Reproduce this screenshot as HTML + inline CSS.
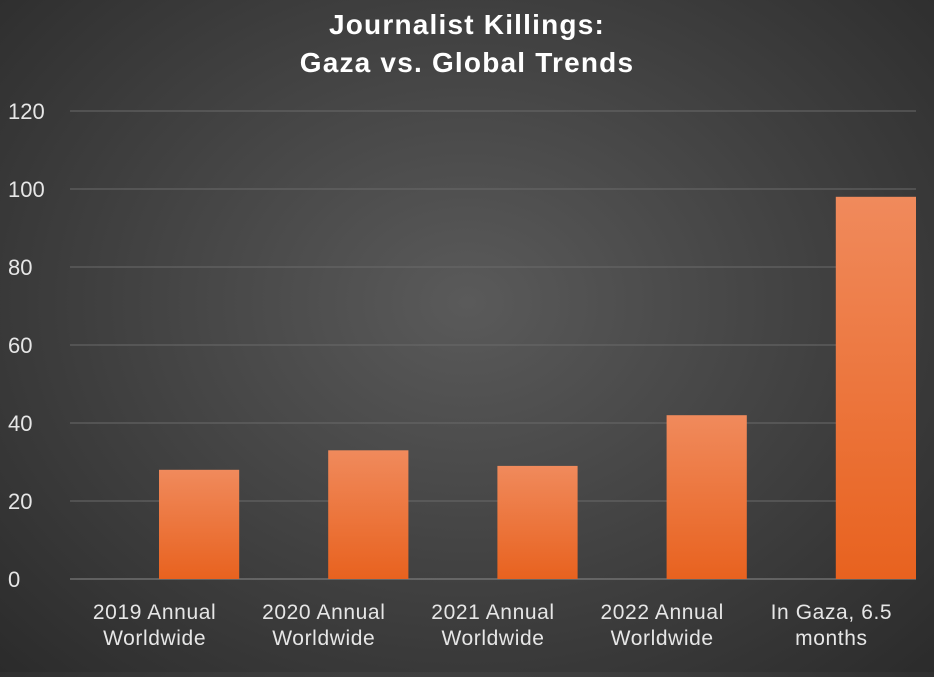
<!DOCTYPE html>
<html><head><meta charset="utf-8"><style>
html,body{margin:0;padding:0;}
body{width:934px;height:672px;overflow:hidden;background:radial-gradient(ellipse at 50% 45%,#5a5a5a 0%,#404040 55%,#2b2b2b 100%);font-family:"Liberation Sans",sans-serif;}
</style></head><body>
<svg id="chart" width="934" height="672" xmlns="http://www.w3.org/2000/svg">
<defs><linearGradient id="barg" x1="0" y1="0" x2="0" y2="1"><stop offset="0" stop-color="#f08a5c"/><stop offset="1" stop-color="#e8621f"/></linearGradient></defs>
<text x="467" y="34" text-anchor="middle" fill="#fff" font-size="28" font-weight="bold" letter-spacing="1.2">Journalist Killings:</text>
<text x="467" y="72" text-anchor="middle" fill="#fff" font-size="28" font-weight="bold" letter-spacing="1.2">Gaza vs. Global Trends</text>
<g id="grid"></g><g id="bars"></g><g id="labels"></g>
</svg>
<script>
const categories=[["2019 Annual","Worldwide"],["2020 Annual","Worldwide"],["2021 Annual","Worldwide"],["2022 Annual","Worldwide"],["In Gaza, 6.5","months"]];
const values=[28,33,29,42,98];
const yTicks=[0,20,40,60,80,100,120];
const NS="http://www.w3.org/2000/svg";
const x0=70,x1=916,yBase=579,yTop=111,yMax=120;
const y=v=>yBase-(v/yMax)*(yBase-yTop);
const cw=(x1-x0)/categories.length;
function mk(t,a,p){const e=document.createElementNS(NS,t);for(const k in a)e.setAttribute(k,a[k]);p.appendChild(e);return e;}
const grid=document.getElementById('grid'),bars=document.getElementById('bars'),labels=document.getElementById('labels');
yTicks.forEach(t=>{
 const l=mk('line',{x1:x0,x2:x1,y1:y(t),y2:y(t),stroke:t===0?'#8a8a8a':'#6a6a6a','stroke-width':1},grid);
 
 
 const tx=mk('text',{x:8,y:y(t)+8,fill:'#e6e6e6','font-size':22},labels);
 tx.textContent=t;
 
 
});
values.forEach((v,i)=>{
 const cs=x0+i*cw;
 const r=mk('rect',{x:cs+cw*0.526,y:y(v),width:cw*0.474,height:yBase-y(v),fill:'url(#barg)'},bars);
 
 
 categories[i].forEach((s,j)=>{
  const tx=mk('text',{x:cs+cw*0.5,y:619+j*26,'text-anchor':'middle',fill:'#e6e6e6','font-size':21,'letter-spacing':0.6},labels);
  tx.textContent=s;
  
  
 });
});
</script>
</body></html>
